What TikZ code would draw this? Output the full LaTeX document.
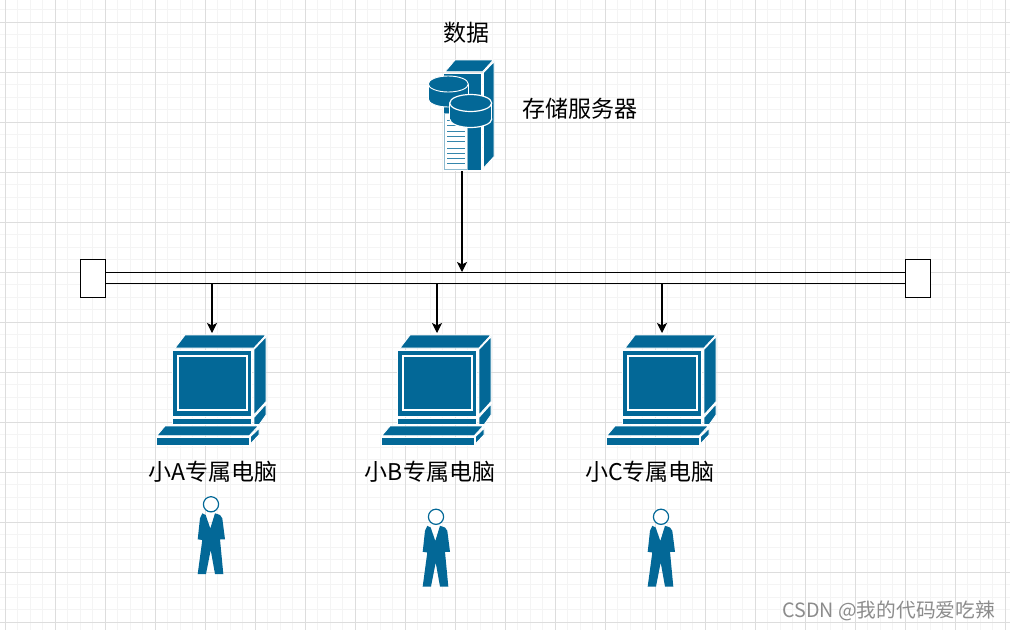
\documentclass[tikz,border=0pt]{standalone}
\usepackage{fontspec}
\setmainfont{Noto Sans CJK SC}
\usetikzlibrary{arrows.meta}
\definecolor{icon}{HTML}{036897}
\definecolor{gridmajor}{HTML}{DDDDDD}
\definecolor{gridminor}{HTML}{F4F4F4}
\tikzset{
  x=1pt,y=-1pt,
  lbl/.style={inner sep=0pt,font=\fontsize{23}{25}\selectfont,text=black},
  wmark/.style={inner sep=0pt,font=\fontsize{19.7}{21}\selectfont,text=black!45},
  iconface/.style={fill=icon,draw=white,line width=0.9pt,line join=miter},
  anchorbox/.style={inner sep=0pt,outer sep=0pt,draw=none},
  busend/.style={draw=black,fill=white,line width=1.1pt,minimum width=25pt,minimum height=38pt,inner sep=0pt,outer sep=0pt},
  railline/.style={draw=black,line width=1pt},
  link/.style={draw=black,line width=1.1pt,-{Stealth[length=10pt,width=10pt,inset=2.5pt]}},
  computer/.pic={
    \path[iconface] (175,348)--(185,335)--(266,335)--(254,348)--cycle;
    \path[iconface] (172.7,350) rectangle (251.7,416.7);
    \path[iconface] (254,349.3)--(266,336.7)--(266,401.7)--(254,415)--cycle;
    \draw[white,line width=2pt] (178,356) rectangle (247,410);
    \path[iconface] (172.7,418.7) rectangle (251.7,424.5);
    \path[iconface] (254,417.3)--(266,404)--(266,415)--(259.3,424.5)--(254,424.5)--cycle;
    \path[iconface] (156.7,435.7)--(165,426)--(258.3,426)--(249.3,435.7)--cycle;
    \path[iconface] (156,437.7) rectangle (249,445.3);
    \path[iconface] (250.3,436.7)--(259,428.3)--(259,435)--(250.3,444)--cycle;
  },
  person/.pic={
    \fill[icon] (197.7,539.3)--(200,518.3)--(202.3,513.3)--(205.7,515)--(210.3,528.5)--(215,513.3)--(220,515)--(222.3,518.3)--(225,539.3)--(220,539.3)--(223.3,574)--(215,574)--(210.7,550)--(206,574)--(197.7,574)--(202.3,540)--cycle;
    \draw[icon,fill=white,line width=1.2pt] (211,504.3) circle[radius=7.6];
  }
}
\begin{document}
\begin{tikzpicture}
\useasboundingbox (0,0) rectangle (1010,630);
\fill[white] (0,0) rectangle (1010,630);
% grid
\foreach \i in {0,...,81} {\draw[gridminor,line width=0.9pt] ({5+12.5*\i},0)--({5+12.5*\i},630);}
\foreach \i in {0,...,51} {\draw[gridminor,line width=0.9pt] (0,{-3+12.5*\i})--(1010,{-3+12.5*\i});}
\foreach \i in {0,...,20} {\draw[gridmajor,line width=0.9pt] ({5+50*\i},0)--({5+50*\i},630);}
\foreach \i in {0,...,12} {\draw[gridmajor,line width=0.9pt] (0,{22+50*\i})--(1010,{22+50*\i});}
% anchors of the icons
\node[anchorbox,minimum width=68pt,minimum height=111pt] (srv) at (462,115.5) {};
\node[anchorbox,minimum width=112pt,minimum height=112pt] (pcA) at (212,389) {};
\node[anchorbox,minimum width=112pt,minimum height=112pt] (pcB) at (437,389) {};
\node[anchorbox,minimum width=112pt,minimum height=112pt] (pcC) at (662,389) {};
% server
\path[iconface] (445,71.7)--(455,60)--(493.3,60)--(482.7,71.7)--cycle;
\path[iconface] (443.3,73.3) rectangle (481.7,170.3);
\path[iconface] (483.3,72.7)--(494,61.7)--(494,156.7)--(483.3,168.3)--cycle;
\fill[white] (444,113) rectangle (467.3,169.3);
\foreach \yy in {120,125,131,136.7,141.7,148,153,158,163}{\draw[icon!80,line width=1pt] (447,\yy)--(465,\yy);}
\draw[icon!45,line width=0.6pt] (444.5,113.5) rectangle (467,169);
% back cylinder
\fill[icon,draw=white,line width=0.9pt] (448.3,99) ellipse[x radius=20,y radius=8];
\fill[icon] (428.3,84) rectangle (468.3,99);
\draw[white,line width=0.9pt] (428.3,84)--(428.3,99) (468.3,84)--(468.3,99);
\draw[iconface] (448.3,84) ellipse[x radius=20,y radius=8];
% front cylinder
\fill[icon,draw=white,line width=1.2pt] (470.7,119) ellipse[x radius=21,y radius=8.5];
\fill[icon] (449.7,103) rectangle (491.7,119);
\draw[white,line width=1.2pt] (449.7,103)--(449.7,119) (491.7,103)--(491.7,119);
\draw[iconface,line width=1.2pt] (470.7,103) ellipse[x radius=21,y radius=8.5];
% computers
\pic at (0,0) {computer};
\pic at (225,0) {computer};
\pic at (450,0) {computer};
% persons
\pic at (0,0) {person};
\pic at (225,12.5) {person};
\pic at (450,12.5) {person};
% bus
\node[busend] (busL) at (93,278.3) {};
\node[busend] (busR) at (918,278.3) {};
\coordinate (railTopL) at (105.5,272);
\coordinate (railTopR) at (905.5,272);
\coordinate (railBotL) at (105.5,283.5);
\coordinate (railBotR) at (905.5,283.5);
\draw[railline] (railTopL)--(railTopR);
\draw[railline] (railBotL)--(railBotR);
\coordinate (tapS) at (462,272);
\coordinate (tapA) at (212,283.5);
\coordinate (tapB) at (437,283.5);
\coordinate (tapC) at (662,283.5);
\draw[link] (srv.south)--(tapS);
\draw[link] (tapA)--(pcA.north);
\draw[link] (tapB)--(pcB.north);
\draw[link] (tapC)--(pcC.north);
% labels
\node[lbl] (t1) at (466,33) {数据};
\node[lbl] (t2) at (580,109) {存储服务器};
\node[lbl] (t3) at (213,472) {小A专属电脑};
\node[lbl] (t4) at (430,472) {小B专属电脑};
\node[lbl] (t5) at (650,472) {小C专属电脑};
\node[wmark,anchor=east] (wm) at (995,611) {CSDN @我的代码爱吃辣};
\end{tikzpicture}
\end{document}
